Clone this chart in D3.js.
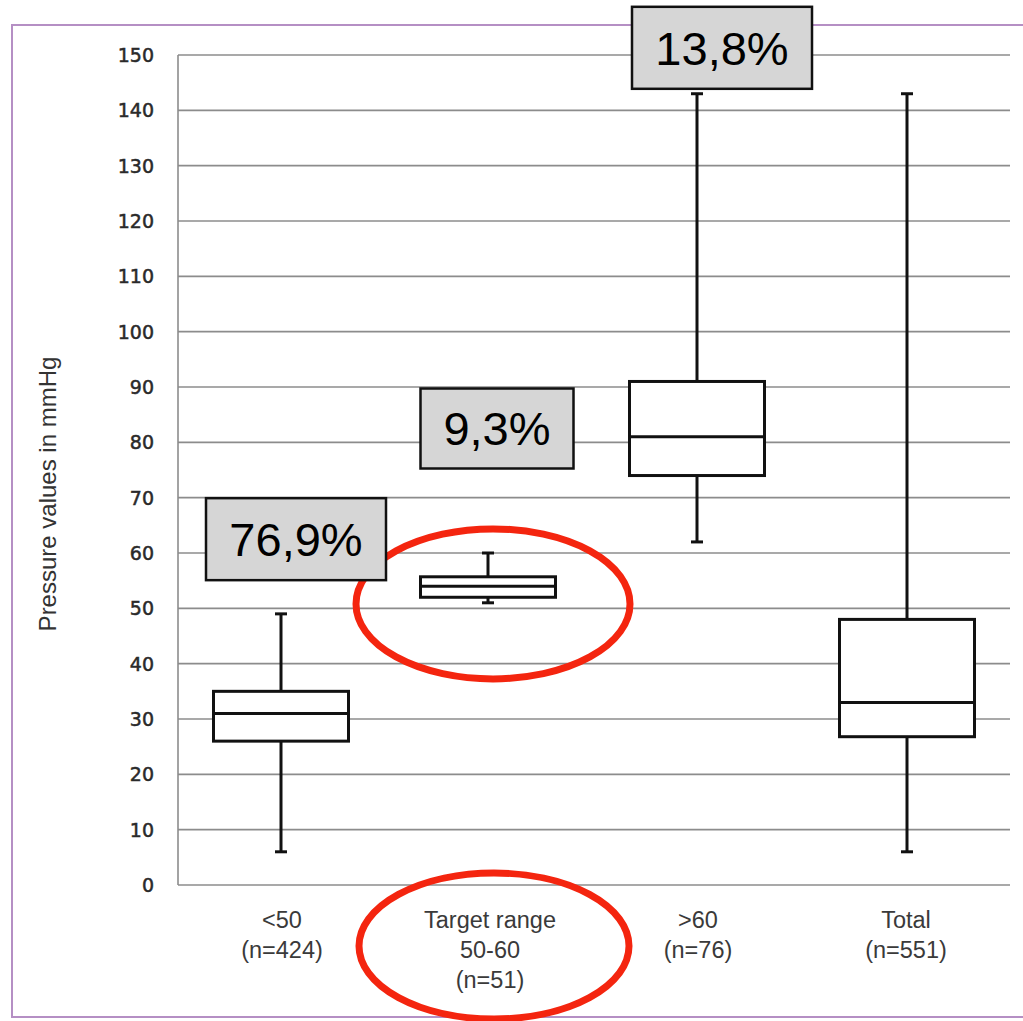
<!DOCTYPE html>
<html><head><meta charset="utf-8">
<script src="https://cdn.jsdelivr.net/npm/d3@7"></script>
<style>body{margin:0;background:#fff}svg{display:block}</style>
</head><body>
<script>
const categories = ["<50", "Target range", ">60", "Total"];
const catLabels = [["<50","(n=424)"],["Target range","50-60","(n=51)"],[">60","(n=76)"],["Total","(n=551)"]];
const whiskerMin = [6, 51, 62, 6];
const q1 = [26, 52, 74, 26.8];
const median = [31, 54, 81, 33];
const q3 = [35, 55.7, 91, 48];
const whiskerMax = [49, 60, 143, 143];
const shares = ["76,9%", "9,3%", "13,8%"];
const shareLevel = [62.5, 82.5, 151.3];
const yTicks = d3.range(0, 151, 10);

const W = 1023, H = 1021;
const svg = d3.select("body").append("svg").attr("width", W).attr("height", H);

// frame
svg.append("rect").attr("x",12).attr("y",25).attr("width",1030).attr("height",992)
  .attr("fill","none").attr("stroke","#b58fc4").attr("stroke-width",2);

const pLeft = 178, pRight = 1010, pTop = 55, pBottom = 885;
const y = d3.scaleLinear().domain([0,150]).range([pBottom, pTop]);
const x = d3.scaleBand().domain(categories).range([pLeft, pRight]);

// gridlines
svg.append("g").selectAll("line").data(yTicks).join("line")
  .attr("x1", pLeft).attr("x2", pRight)
  .attr("y1", d=>y(d)).attr("y2", d=>y(d))
  .attr("stroke","#8c8c8c").attr("stroke-width",1.6);
// y axis line
svg.append("line").attr("x1",pLeft).attr("x2",pLeft).attr("y1",pTop).attr("y2",pBottom)
  .attr("stroke","#8c8c8c").attr("stroke-width",1.6);

// y tick labels
svg.append("g").selectAll("text").data(yTicks).join("text")
  .attr("x", 154).attr("y", d=>y(d)).attr("dy","0.36em")
  .attr("text-anchor","end").attr("font-family","DejaVu Sans")
  .attr("font-size",19).attr("fill","#2a2a2a")
  .attr("stroke","#2a2a2a").attr("stroke-width",0.5).text(d=>d);

// y title
svg.append("text").attr("transform",`translate(56,494) rotate(-90)`)
  .attr("text-anchor","middle").attr("font-family","Liberation Sans, Arial")
  .attr("font-size",24).attr("fill","#333").text("Pressure values in mmHg");

// x labels
const xl = svg.append("g");
catLabels.forEach((lines,i)=>{
  const t = xl.append("text").attr("x", x(categories[i]) + x.bandwidth()/2)
    .attr("text-anchor","middle").attr("font-family","Liberation Sans, Arial")
    .attr("font-size",23.5).attr("fill","#3a3a3a");
  lines.forEach((s,j)=> t.append("tspan").attr("x", x(categories[i]) + x.bandwidth()/2)
    .attr("y", 928 + j*30).text(s));
});

// boxplots
const bw = 135, cap = 12;
const shift = [-1, -2, -1, 1];
const g = svg.append("g").attr("stroke","#111").attr("stroke-width",3).attr("fill","#fff");
categories.forEach((c,i)=>{
  const cx = x(c) + x.bandwidth()/2 + shift[i];
  g.append("line").attr("x1",cx).attr("x2",cx).attr("y1",y(whiskerMax[i])).attr("y2",y(q3[i]));
  g.append("line").attr("x1",cx).attr("x2",cx).attr("y1",y(q1[i])).attr("y2",y(whiskerMin[i]));
  g.append("line").attr("x1",cx-cap/2).attr("x2",cx+cap/2).attr("y1",y(whiskerMax[i])).attr("y2",y(whiskerMax[i]));
  g.append("line").attr("x1",cx-cap/2).attr("x2",cx+cap/2).attr("y1",y(whiskerMin[i])).attr("y2",y(whiskerMin[i]));
  g.append("rect").attr("x",cx-bw/2).attr("width",bw).attr("y",y(q3[i])).attr("height",y(q1[i])-y(q3[i]));
  g.append("line").attr("x1",cx-bw/2).attr("x2",cx+bw/2).attr("y1",y(median[i])).attr("y2",y(median[i]));
});

// red ellipses
const tc = x(categories[1]) + x.bandwidth()/2;
svg.append("ellipse").attr("cx",tc+3).attr("cy",y(50.8)).attr("rx",137).attr("ry",75)
  .attr("fill","none").attr("stroke","#f4250f").attr("stroke-width",7);
svg.append("ellipse").attr("cx",tc+4).attr("cy",946).attr("rx",135).attr("ry",73)
  .attr("fill","none").attr("stroke","#f4250f").attr("stroke-width",7);

// share labels
const bwL = 180, bhL = 82;
const offsets = [14, 7, 24];
shares.forEach((s,i)=>{
  const cx = x(categories[i]) + x.bandwidth()/2 + offsets[i];
  const cy = y(shareLevel[i]);
  const w = i===1 ? 153 : bwL, h = i===1 ? 80 : bhL;
  svg.append("rect").attr("x",cx-w/2).attr("y",cy-h/2).attr("width",w).attr("height",h)
    .attr("fill","#d6d6d6").attr("stroke","#111").attr("stroke-width",2.5);
  svg.append("text").attr("x",cx).attr("y",cy).attr("dy","0.36em")
    .attr("text-anchor","middle").attr("font-family","Liberation Sans, Arial")
    .attr("font-size",47).attr("fill","#000").text(s);
});
</script>
</body></html>
